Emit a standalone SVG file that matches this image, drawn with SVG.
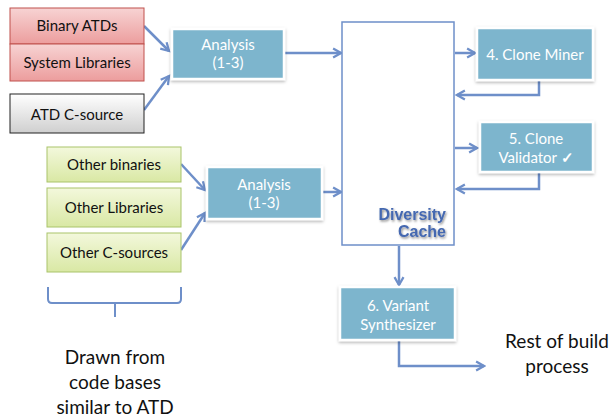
<svg xmlns="http://www.w3.org/2000/svg" width="610" height="419" viewBox="0 0 610 419">
<style>
.lbl{font-family:Lato,"Open Sans","Liberation Sans",sans-serif;font-size:15px;text-anchor:middle;fill:#111}
.wl{font-family:Lato,"Open Sans","Liberation Sans",sans-serif;font-size:15px;text-anchor:middle;fill:#fff}
.big{font-family:Lato,"Open Sans","Liberation Sans",sans-serif;font-size:19px;text-anchor:middle;fill:#111}
.blue{fill:#7db5cd;stroke:#fff;stroke-width:2.5;filter:url(#sh)}
.con{fill:none;stroke:#6e8fc9;stroke-width:2.5;marker-end:url(#ah)}
</style>
<defs>
<linearGradient id="gp" x1="0" y1="0" x2="0" y2="1"><stop offset="0" stop-color="#f7d3d3"/><stop offset="1" stop-color="#ec9d9d"/></linearGradient>
<linearGradient id="gg" x1="0" y1="0" x2="0" y2="1"><stop offset="0" stop-color="#ffffff"/><stop offset="1" stop-color="#cfcfcf"/></linearGradient>
<linearGradient id="gn" x1="0" y1="0" x2="0" y2="1"><stop offset="0" stop-color="#f3f8dc"/><stop offset="1" stop-color="#d9e8a4"/></linearGradient>
<filter id="sh" x="-20%" y="-20%" width="140%" height="150%"><feDropShadow dx="0" dy="1.5" stdDeviation="1.5" flood-color="#000" flood-opacity="0.3"/></filter>
<filter id="ts" x="-10%" y="-20%" width="130%" height="160%"><feDropShadow dx="1" dy="1.5" stdDeviation="1" flood-color="#000" flood-opacity="0.45"/></filter>
<marker id="ah" viewBox="0 0 10 10" refX="8" refY="5" markerWidth="4.5" markerHeight="4.5" orient="auto" markerUnits="strokeWidth"><path d="M1,1 L8,5 L1,9" fill="none" stroke="#6e8fc9" stroke-width="2"/></marker>
</defs>
<g id="connectors">
<path class="con" d="M144,26 L169,51"/>
<path class="con" d="M144,110 L169,76"/>
<path class="con" d="M284,53 L341,53"/>
<path class="con" d="M181,164 L205,190"/>
<path class="con" d="M181,250 L205,213"/>
<path class="con" d="M322,192 L341,192"/>
<path class="con" d="M455,53 L475,53"/>
<path class="con" d="M539,81 L539,95 L457,95"/>
<path class="con" d="M455,148 L477,148"/>
<path class="con" d="M539,173 L539,189 L457,189"/>
<path class="con" d="M399,246 L399,285"/>
<path class="con" d="M399,341 L399,366 L484,366"/>
<path d="M48,287 L48,299 Q48,303 52,303 L177,303 Q181,303 181,299 L181,287 M115,303 L115,317" fill="none" stroke="#6e8fc9" stroke-width="2"/>
</g>
<g id="binary-atds"><rect x="10" y="8" width="134" height="36" fill="url(#gp)" stroke="#c0504d" stroke-width="1"/><text class="lbl" x="77" y="31">Binary ATDs</text></g>
<g id="system-libraries"><rect x="10" y="44" width="134" height="37" fill="url(#gp)" stroke="#c0504d" stroke-width="1"/><text class="lbl" x="77" y="68">System Libraries</text></g>
<g id="atd-c-source"><rect x="10" y="94" width="134" height="39" fill="url(#gg)" stroke="#222" stroke-width="1"/><text class="lbl" x="77" y="120">ATD C-source</text></g>
<g id="analysis-1"><rect class="blue" x="172" y="29" width="112" height="50"/><text class="wl" x="228" y="50">Analysis</text><text class="wl" x="228" y="68">(1-3)</text></g>
<g id="other-binaries"><rect x="47" y="147" width="134" height="35" fill="url(#gn)" stroke="#a9c46a" stroke-width="1"/><text class="lbl" x="114" y="170">Other binaries</text></g>
<g id="other-libraries"><rect x="47" y="188" width="134" height="39" fill="url(#gn)" stroke="#a9c46a" stroke-width="1"/><text class="lbl" x="114" y="213">Other Libraries</text></g>
<g id="other-c-sources"><rect x="47" y="233" width="134" height="39" fill="url(#gn)" stroke="#a9c46a" stroke-width="1"/><text class="lbl" x="114" y="258">Other C-sources</text></g>
<g id="analysis-2"><rect class="blue" x="207" y="167" width="115" height="52"/><text class="wl" x="264" y="190">Analysis</text><text class="wl" x="264" y="208">(1-3)</text></g>
<g id="diversity-cache"><rect x="342" y="22" width="112" height="223" fill="#fff" stroke="#6e8fc9" stroke-width="1.5"/>
<g filter="url(#ts)" font-family="'Liberation Sans',Arial,sans-serif" font-weight="bold" font-size="16" fill="#4468b0" text-anchor="end"><text x="446" y="220">Diversity</text><text x="446" y="237">Cache</text></g></g>
<g id="clone-miner"><rect class="blue" x="477" y="28" width="116" height="52"/><text class="wl" x="535" y="60">4. Clone Miner</text></g>
<g id="clone-validator"><rect class="blue" x="480" y="122" width="113" height="50"/><text class="wl" x="536" y="144">5. Clone</text><text class="wl" x="536" y="163">Validator <tspan font-weight="bold">✓</tspan></text></g>
<g id="variant-synth"><rect class="blue" x="340" y="287" width="115" height="53"/><text class="wl" x="398" y="311">6. Variant</text><text class="wl" x="398" y="330">Synthesizer</text></g>
<g id="rest"><text class="big" x="557" y="348">Rest of build</text><text class="big" x="557" y="373">process</text></g>
<g id="drawn"><text class="big" x="115" y="364">Drawn from</text><text class="big" x="115" y="389">code bases</text><text class="big" x="115" y="414">similar to ATD</text></g>
</svg>
